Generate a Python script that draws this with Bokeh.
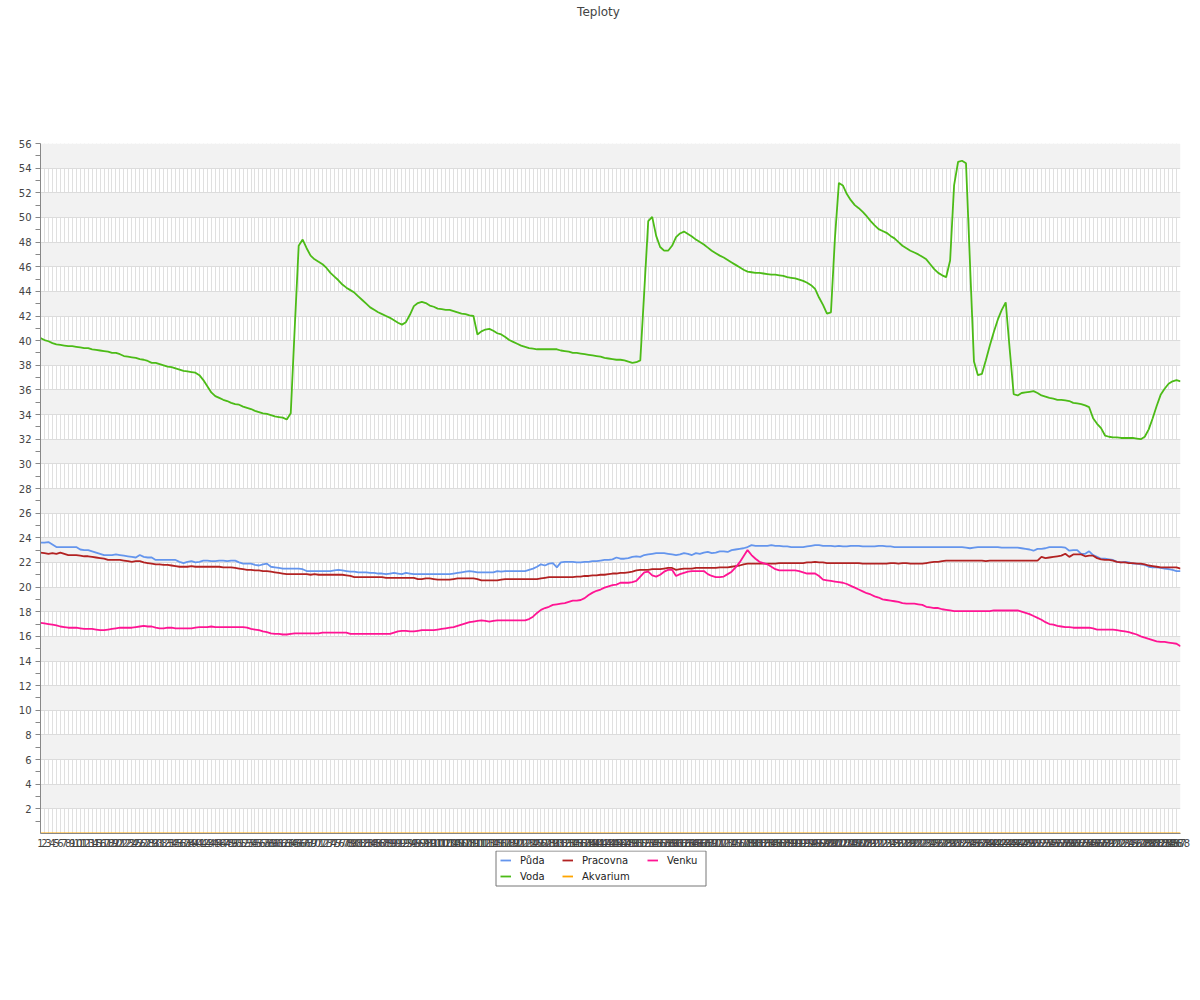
from bokeh.plotting import figure
from bokeh.layouts import column
from bokeh.models import Range1d, FixedTicker, Legend, LegendItem, Label
from bokeh.embed import file_html
from bokeh.resources import INLINE

FONT = "DejaVu Sans"

x_labels = list(range(1, 289))

puda = [
    23.6, 23.6, 23.65, 23.45, 23.25, 23.25, 23.25, 23.25, 23.25, 23.25, 23.05, 23.0,
    23.0, 22.9, 22.8, 22.7, 22.6, 22.6, 22.6, 22.65, 22.6, 22.55, 22.5, 22.45,
    22.4, 22.6, 22.45, 22.4, 22.4, 22.2, 22.2, 22.2, 22.2, 22.2, 22.2, 22.05,
    21.95, 22.05, 22.1, 22.0, 22.05, 22.15, 22.15, 22.1, 22.1, 22.15, 22.15, 22.1,
    22.15, 22.15, 22.0, 21.9, 21.9, 21.9, 21.8, 21.75, 21.85, 21.9, 21.65, 21.6,
    21.55, 21.5, 21.5, 21.5, 21.5, 21.5, 21.45, 21.3, 21.3, 21.3, 21.3, 21.3,
    21.3, 21.3, 21.35, 21.4, 21.35, 21.3, 21.25, 21.25, 21.2, 21.2, 21.2, 21.15,
    21.15, 21.1, 21.1, 21.05, 21.1, 21.15, 21.1, 21.05, 21.15, 21.1, 21.05, 21.05,
    21.05, 21.05, 21.05, 21.05, 21.05, 21.05, 21.05, 21.05, 21.1, 21.15, 21.2, 21.25,
    21.3, 21.25, 21.2, 21.2, 21.2, 21.2, 21.2, 21.3, 21.25, 21.3, 21.3, 21.3,
    21.3, 21.3, 21.3, 21.4, 21.5, 21.65, 21.85, 21.75, 21.9, 21.95, 21.6, 22.0,
    22.05, 22.05, 22.05, 22.0, 22.0, 22.05, 22.05, 22.1, 22.1, 22.15, 22.2, 22.2,
    22.25, 22.4, 22.3, 22.3, 22.35, 22.45, 22.5, 22.45, 22.6, 22.65, 22.7, 22.75,
    22.75, 22.75, 22.7, 22.65, 22.6, 22.65, 22.75, 22.7, 22.6, 22.75, 22.7, 22.8,
    22.85, 22.75, 22.8, 22.9, 22.9, 22.85, 23.0, 23.05, 23.1, 23.15, 23.25, 23.4,
    23.35, 23.35, 23.35, 23.35, 23.4, 23.35, 23.35, 23.3, 23.3, 23.25, 23.25, 23.25,
    23.25, 23.3, 23.35, 23.4, 23.4, 23.35, 23.35, 23.35, 23.3, 23.35, 23.3, 23.3,
    23.35, 23.35, 23.35, 23.3, 23.3, 23.3, 23.3, 23.35, 23.35, 23.3, 23.3, 23.25,
    23.25, 23.25, 23.25, 23.25, 23.25, 23.25, 23.25, 23.25, 23.25, 23.25, 23.25, 23.25,
    23.25, 23.25, 23.25, 23.25, 23.25, 23.2, 23.15, 23.2, 23.25, 23.25, 23.25, 23.25,
    23.25, 23.25, 23.2, 23.2, 23.2, 23.2, 23.2, 23.15, 23.1, 23.05, 22.95, 23.1,
    23.1, 23.15, 23.25, 23.25, 23.25, 23.25, 23.2, 22.95, 23.0, 23.0, 22.7, 22.7,
    22.9, 22.6, 22.45, 22.3, 22.3, 22.25, 22.2, 22.05, 22.0, 22.05, 22.0, 21.9,
    21.9, 21.85, 21.8, 21.65, 21.6, 21.6, 21.55, 21.5, 21.45, 21.4, 21.3, 21.3,
]

voda = [
    40.2, 40.05, 39.95, 39.8, 39.7, 39.65, 39.6, 39.55, 39.55, 39.5, 39.45, 39.4,
    39.4, 39.3, 39.25, 39.2, 39.15, 39.1, 39.0, 39.0, 38.9, 38.75, 38.7, 38.65,
    38.6, 38.5, 38.45, 38.35, 38.2, 38.2, 38.1, 38.0, 37.9, 37.85, 37.75, 37.65,
    37.55, 37.5, 37.45, 37.4, 37.2, 36.8, 36.3, 35.8, 35.5, 35.35, 35.2, 35.1,
    34.95, 34.85, 34.8, 34.65, 34.55, 34.45, 34.3, 34.2, 34.1, 34.05, 33.95, 33.85,
    33.8, 33.75, 33.6, 34.1, 41.0, 47.7, 48.2, 47.5, 46.9, 46.6, 46.4, 46.2,
    45.9, 45.5, 45.2, 44.9, 44.55, 44.3, 44.1, 43.9, 43.6, 43.3, 43.0, 42.7,
    42.5, 42.3, 42.15, 42.0, 41.85, 41.65, 41.45, 41.3, 41.5, 42.1, 42.8, 43.05,
    43.15, 43.05, 42.85, 42.75, 42.6, 42.55, 42.5, 42.5, 42.4, 42.3, 42.2, 42.15,
    42.05, 42.0, 40.5, 40.75, 40.9, 40.95, 40.8, 40.6, 40.5, 40.3, 40.05, 39.9,
    39.75, 39.6, 39.5, 39.4, 39.35, 39.3, 39.3, 39.3, 39.3, 39.3, 39.3, 39.2,
    39.15, 39.1, 39.0, 39.0, 38.95, 38.9, 38.85, 38.8, 38.75, 38.7, 38.6, 38.55,
    38.5, 38.45, 38.45, 38.4, 38.3, 38.2, 38.25, 38.4, 44.0, 49.7, 50.05, 48.5,
    47.6, 47.3, 47.3, 47.7, 48.4, 48.7, 48.85, 48.65, 48.45, 48.2, 48.0, 47.8,
    47.55, 47.3, 47.1, 46.9, 46.75, 46.55, 46.35, 46.15, 45.95, 45.75, 45.6, 45.55,
    45.5, 45.5, 45.45, 45.4, 45.35, 45.35, 45.3, 45.25, 45.15, 45.1, 45.05, 44.95,
    44.85, 44.7, 44.5, 44.2, 43.5, 42.9, 42.2, 42.3, 48.3, 52.8, 52.6, 51.9,
    51.4, 51.0, 50.75, 50.45, 50.1, 49.7, 49.35, 49.05, 48.9, 48.75, 48.5, 48.3,
    48.0, 47.7, 47.5, 47.3, 47.15, 47.0, 46.8, 46.6, 46.2, 45.8, 45.5, 45.3,
    45.15, 46.5, 52.6, 54.5, 54.6, 54.4, 46.3, 38.3, 37.2, 37.3, 38.4, 39.6,
    40.7, 41.7, 42.5, 43.1, 39.3, 35.65, 35.55, 35.75, 35.8, 35.85, 35.9, 35.75,
    35.55, 35.45, 35.35, 35.3, 35.2, 35.2, 35.15, 35.1, 34.95, 34.9, 34.85, 34.75,
    34.6, 33.7, 33.25, 32.9, 32.3, 32.2, 32.15, 32.15, 32.1, 32.1, 32.1, 32.1,
    32.05, 32.0, 32.2, 32.8, 33.7, 34.7, 35.6, 36.1, 36.5, 36.7, 36.8, 36.7,
]

pracovna = [
    22.8, 22.75, 22.7, 22.75, 22.7, 22.8, 22.7, 22.6, 22.6, 22.6, 22.55, 22.5,
    22.5, 22.45, 22.4, 22.35, 22.3, 22.2, 22.2, 22.2, 22.2, 22.15, 22.1, 22.05,
    22.1, 22.1, 22.0, 21.95, 21.9, 21.85, 21.85, 21.8, 21.8, 21.75, 21.7, 21.65,
    21.65, 21.65, 21.7, 21.65, 21.65, 21.65, 21.65, 21.65, 21.65, 21.65, 21.6, 21.6,
    21.6, 21.55, 21.5, 21.45, 21.4, 21.4, 21.35, 21.35, 21.3, 21.3, 21.25, 21.2,
    21.15, 21.1, 21.05, 21.05, 21.05, 21.05, 21.05, 21.05, 21.0, 21.05, 21.0, 21.0,
    21.0, 21.0, 21.0, 21.0, 21.0, 20.95, 20.9, 20.8, 20.8, 20.8, 20.8, 20.8,
    20.8, 20.8, 20.8, 20.75, 20.75, 20.75, 20.75, 20.75, 20.75, 20.75, 20.75, 20.65,
    20.65, 20.7, 20.7, 20.65, 20.6, 20.6, 20.6, 20.6, 20.65, 20.7, 20.7, 20.7,
    20.7, 20.7, 20.65, 20.55, 20.55, 20.55, 20.55, 20.55, 20.6, 20.65, 20.65, 20.65,
    20.65, 20.65, 20.65, 20.65, 20.65, 20.65, 20.7, 20.75, 20.8, 20.8, 20.8, 20.8,
    20.8, 20.8, 20.8, 20.85, 20.85, 20.9, 20.9, 20.95, 20.95, 21.0, 21.0, 21.05,
    21.1, 21.1, 21.15, 21.15, 21.2, 21.25, 21.35, 21.4, 21.4, 21.4, 21.45, 21.45,
    21.45, 21.5, 21.55, 21.55, 21.4, 21.45, 21.5, 21.5, 21.5, 21.55, 21.55, 21.55,
    21.55, 21.55, 21.55, 21.6, 21.6, 21.6, 21.65, 21.7, 21.75, 21.85, 21.9, 21.9,
    21.9, 21.9, 21.9, 21.9, 21.9, 21.9, 21.95, 21.95, 21.95, 21.95, 21.95, 21.95,
    21.95, 22.0, 22.0, 22.05, 22.0, 22.0, 21.95, 21.95, 21.95, 21.95, 21.95, 21.95,
    21.95, 21.95, 21.95, 21.9, 21.9, 21.9, 21.9, 21.9, 21.9, 21.9, 21.95, 21.95,
    21.9, 21.95, 21.95, 21.9, 21.9, 21.9, 21.9, 21.95, 22.0, 22.05, 22.05, 22.1,
    22.15, 22.15, 22.15, 22.15, 22.15, 22.15, 22.15, 22.15, 22.15, 22.15, 22.1, 22.15,
    22.15, 22.15, 22.15, 22.15, 22.15, 22.15, 22.15, 22.15, 22.15, 22.15, 22.15, 22.15,
    22.45, 22.35, 22.4, 22.45, 22.5, 22.55, 22.7, 22.45, 22.65, 22.65, 22.65, 22.5,
    22.55, 22.55, 22.35, 22.25, 22.2, 22.2, 22.15, 22.05, 22.0, 22.0, 21.95, 21.95,
    21.9, 21.9, 21.85, 21.75, 21.7, 21.65, 21.6, 21.6, 21.6, 21.6, 21.6, 21.5,
]

akvarium = [
    0, 0, 0, 0, 0, 0, 0, 0, 0, 0, 0, 0, 0, 0, 0, 0, 0, 0, 0, 0, 0, 0, 0, 0,
    0, 0, 0, 0, 0, 0, 0, 0, 0, 0, 0, 0, 0, 0, 0, 0, 0, 0, 0, 0, 0, 0, 0, 0,
    0, 0, 0, 0, 0, 0, 0, 0, 0, 0, 0, 0, 0, 0, 0, 0, 0, 0, 0, 0, 0, 0, 0, 0,
    0, 0, 0, 0, 0, 0, 0, 0, 0, 0, 0, 0, 0, 0, 0, 0, 0, 0, 0, 0, 0, 0, 0, 0,
    0, 0, 0, 0, 0, 0, 0, 0, 0, 0, 0, 0, 0, 0, 0, 0, 0, 0, 0, 0, 0, 0, 0, 0,
    0, 0, 0, 0, 0, 0, 0, 0, 0, 0, 0, 0, 0, 0, 0, 0, 0, 0, 0, 0, 0, 0, 0, 0,
    0, 0, 0, 0, 0, 0, 0, 0, 0, 0, 0, 0, 0, 0, 0, 0, 0, 0, 0, 0, 0, 0, 0, 0,
    0, 0, 0, 0, 0, 0, 0, 0, 0, 0, 0, 0, 0, 0, 0, 0, 0, 0, 0, 0, 0, 0, 0, 0,
    0, 0, 0, 0, 0, 0, 0, 0, 0, 0, 0, 0, 0, 0, 0, 0, 0, 0, 0, 0, 0, 0, 0, 0,
    0, 0, 0, 0, 0, 0, 0, 0, 0, 0, 0, 0, 0, 0, 0, 0, 0, 0, 0, 0, 0, 0, 0, 0,
    0, 0, 0, 0, 0, 0, 0, 0, 0, 0, 0, 0, 0, 0, 0, 0, 0, 0, 0, 0, 0, 0, 0, 0,
    0, 0, 0, 0, 0, 0, 0, 0, 0, 0, 0, 0, 0, 0, 0, 0, 0, 0, 0, 0, 0, 0, 0, 0,
]

venku = [
    17.1, 17.05, 17.0, 16.95, 16.9, 16.8, 16.75, 16.7, 16.7, 16.7, 16.65, 16.6,
    16.6, 16.6, 16.55, 16.5, 16.5, 16.55, 16.6, 16.65, 16.7, 16.7, 16.7, 16.7,
    16.75, 16.8, 16.85, 16.8, 16.8, 16.7, 16.65, 16.65, 16.7, 16.7, 16.65, 16.65,
    16.65, 16.65, 16.65, 16.7, 16.75, 16.75, 16.75, 16.8, 16.75, 16.75, 16.75, 16.75,
    16.75, 16.75, 16.75, 16.75, 16.7, 16.6, 16.55, 16.5, 16.4, 16.35, 16.25, 16.2,
    16.2, 16.15, 16.15, 16.2, 16.25, 16.25, 16.25, 16.25, 16.25, 16.25, 16.25, 16.3,
    16.3, 16.3, 16.3, 16.3, 16.3, 16.3, 16.2, 16.2, 16.2, 16.2, 16.2, 16.2,
    16.2, 16.2, 16.2, 16.2, 16.2, 16.3, 16.4, 16.45, 16.45, 16.4, 16.4, 16.45,
    16.5, 16.5, 16.5, 16.5, 16.55, 16.6, 16.65, 16.7, 16.75, 16.85, 16.95, 17.05,
    17.15, 17.2, 17.25, 17.3, 17.25, 17.2, 17.25, 17.3, 17.3, 17.3, 17.3, 17.3,
    17.3, 17.3, 17.3, 17.4, 17.6, 17.9, 18.15, 18.3, 18.4, 18.55, 18.6, 18.65,
    18.7, 18.8, 18.9, 18.9, 18.95, 19.1, 19.35, 19.55, 19.7, 19.8, 19.95, 20.05,
    20.15, 20.2, 20.35, 20.35, 20.35, 20.4, 20.5, 20.85, 21.2, 21.25, 20.95, 20.85,
    21.0, 21.25, 21.4, 21.4, 20.9, 21.05, 21.15, 21.25, 21.3, 21.3, 21.3, 21.3,
    21.05, 20.9, 20.8, 20.8, 20.85, 21.05, 21.25, 21.6, 22.0, 22.5, 23.0, 22.6,
    22.3, 22.05, 21.95, 21.85, 21.65, 21.45, 21.35, 21.35, 21.35, 21.35, 21.35, 21.3,
    21.2, 21.1, 21.1, 21.1, 20.9, 20.6, 20.55, 20.5, 20.45, 20.4, 20.35, 20.25,
    20.1, 19.95, 19.8, 19.65, 19.5, 19.4, 19.25, 19.15, 19.0, 18.95, 18.9, 18.85,
    18.8, 18.7, 18.65, 18.65, 18.65, 18.6, 18.55, 18.4, 18.35, 18.3, 18.3, 18.2,
    18.15, 18.1, 18.05, 18.05, 18.05, 18.05, 18.05, 18.05, 18.05, 18.05, 18.05, 18.05,
    18.1, 18.1, 18.1, 18.1, 18.1, 18.1, 18.1, 18.0, 17.9, 17.8, 17.65, 17.5,
    17.35, 17.15, 17.0, 16.95, 16.85, 16.8, 16.75, 16.75, 16.7, 16.7, 16.7, 16.7,
    16.7, 16.65, 16.55, 16.55, 16.55, 16.55, 16.55, 16.5, 16.45, 16.4, 16.35, 16.25,
    16.15, 16.0, 15.9, 15.8, 15.7, 15.6, 15.55, 15.55, 15.5, 15.45, 15.4, 15.2,
]

y_major = list(range(2, 57, 2))
y_minor = list(range(1, 56, 2))
y_grid = list(range(0, 57, 2))

series = [
    ("Půda", puda, "#6495ed"),
    ("Voda", voda, "#4cbb17"),
    ("Pracovna", pracovna, "#b22222"),
    ("Akvarium", akvarium, "#ffa500"),
    ("Venku", venku, "#ff1493"),
]

W = 1192
FL, FR = 40, 1180   # frame edges in page pixels (aligned across the column)

# ---- title strip (data units == page pixels) ----
tf = figure(width=W, height=133, output_backend="svg", toolbar_location=None,
            x_range=Range1d(FL, FR), y_range=Range1d(133, 0),
            x_axis_type=None, y_axis_type=None,
            min_border_left=FL, min_border_right=W - FR,
            min_border_top=0, min_border_bottom=0, title=None)
tf.outline_line_color = None
tf.xgrid.visible = False
tf.ygrid.visible = False
tf.add_layout(Label(x=598, y=11, text="Teploty", text_align="center",
                    text_baseline="middle", text_font=FONT, text_font_size="12px",
                    text_color="#444444"))

# ---- main chart ----
p = figure(width=W, height=717, output_backend="svg", toolbar_location=None,
           x_range=Range1d(1, 288), y_range=Range1d(0, 56),
           min_border_left=FL, min_border_right=W - FR, min_border_top=10,
           min_border_bottom=17, title=None)
p.outline_line_color = None
p.background_fill_color = "white"
p.border_fill_color = "white"

p.xaxis.ticker = FixedTicker(ticks=x_labels)
p.xaxis.major_label_text_font = FONT
p.xaxis.major_label_text_font_size = "10px"
p.xaxis.major_label_text_color = "#444444"
p.xaxis.major_tick_out = 0
p.xaxis.major_tick_in = 0
p.xaxis.minor_tick_out = 0
p.xaxis.minor_tick_in = 0
p.xaxis.major_label_standoff = 5
p.xaxis.axis_line_color = "#888888"

p.yaxis.ticker = FixedTicker(ticks=y_major, minor_ticks=y_minor)
p.yaxis.major_label_text_font = FONT
p.yaxis.major_label_text_font_size = "10px"
p.yaxis.major_label_text_color = "#444444"
p.yaxis.major_tick_out = 5
p.yaxis.major_tick_in = 0
p.yaxis.minor_tick_out = 5
p.yaxis.minor_tick_in = 0
p.yaxis.major_tick_line_color = "#888888"
p.yaxis.minor_tick_line_color = "#888888"
p.yaxis.axis_line_color = "#888888"
p.yaxis.major_label_standoff = 4

p.xgrid.ticker = FixedTicker(ticks=x_labels)
p.xgrid.grid_line_color = "#e0e0e0"
p.xgrid.grid_line_width = 1
p.ygrid.ticker = FixedTicker(ticks=y_grid)
p.ygrid.grid_line_color = "#dcdcdc"
p.ygrid.band_fill_color = "#f2f2f2"
p.ygrid.band_fill_alpha = 1.0

for name, vals, color in series:
    p.line(x_labels, vals, line_color=color, line_width=1.8)

# ---- legend strip (data units == page pixels, page y from 850 to 900) ----
LH = 50
lf = figure(width=W, height=LH, output_backend="svg", toolbar_location=None,
            x_range=Range1d(FL, FR), y_range=Range1d(850 + LH, 850),
            x_axis_type=None, y_axis_type=None,
            min_border_left=FL, min_border_right=W - FR,
            min_border_top=0, min_border_bottom=0, title=None)
lf.outline_line_color = None
lf.xgrid.visible = False
lf.ygrid.visible = False

# legend frame box
lf.quad(left=[495.5], right=[705.5], top=[850.5], bottom=[885.5],
        fill_color="white", line_color="#777777", line_width=1)

renderers = {}
for name, vals, color in series:
    # legend-only proxies, kept outside the visible range
    renderers[name] = lf.line([0, 1], [0, 0], line_color=color, line_width=1.8)

# (names, glyph left edge in page px, legend bottom offset from strip bottom)
columns_def = [
    (["Půda", "Voda"], 500, LH - 33),
    (["Pracovna", "Akvarium"], 562, LH - 33),
    (["Venku"], 647, LH - 17),
]
for names, gx, gy in columns_def:
    lg = Legend(items=[LegendItem(label=n, renderers=[renderers[n]]) for n in names],
                orientation="vertical", location=(gx - FL, gy),
                label_text_font=FONT, label_text_font_size="10px",
                label_text_color="#222222", glyph_width=11, glyph_height=14,
                label_height=14, label_standoff=9, spacing=2,
                padding=0, margin=0, border_line_color=None,
                background_fill_alpha=0.0)
    lf.add_layout(lg)

layout = column(tf, p, lf, spacing=0)

open("out.html", "w").write(file_html(layout, INLINE))
